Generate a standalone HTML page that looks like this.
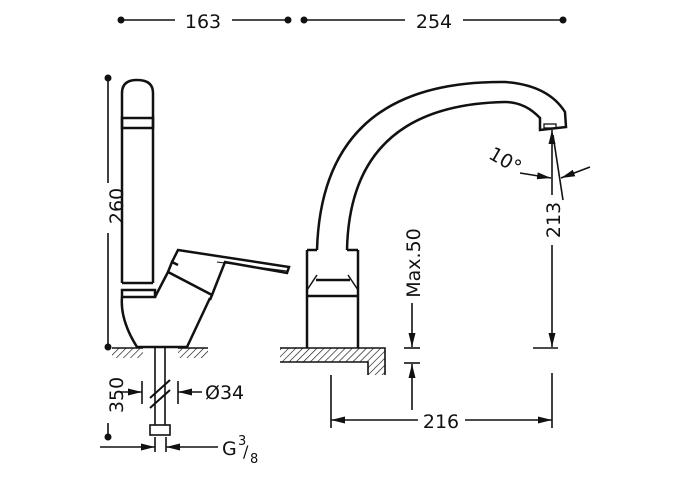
<!DOCTYPE html>
<html><head><style>
html,body{margin:0;padding:0;background:#fff;}
svg{display:block;}
text{font-family:"DejaVu Sans","Liberation Sans",sans-serif;fill:#111;}
</style></head><body>
<svg width="700" height="500" viewBox="0 0 700 500" xmlns="http://www.w3.org/2000/svg">
<defs>
<pattern id="h" width="5" height="5" patternUnits="userSpaceOnUse" patternTransform="rotate(45)">
<line x1="0" y1="0" x2="0" y2="5" stroke="#111" stroke-width="1.3"/>
</pattern>
<marker id="b" markerWidth="14" markerHeight="7" refX="14" refY="3.5" orient="auto" markerUnits="userSpaceOnUse">
<path d="M0,0 L14,3.5 L0,7 z" fill="#111"/>
</marker>
</defs>
<g stroke="#111" stroke-width="1.6" fill="none">
<line x1="121" y1="20" x2="175" y2="20"/><line x1="232" y1="20" x2="288" y2="20"/>
<line x1="304" y1="20" x2="405" y2="20"/><line x1="463" y1="20" x2="563" y2="20"/>
<line x1="108" y1="78" x2="108" y2="183"/><line x1="108" y1="233" x2="108" y2="347"/>
<g stroke-width="2.5">
<path d="M122,283 L122,93 Q122,80 137,80 Q153,80 153,93 L153,283"/>
<rect x="122" y="118" width="31" height="10"/>
<line x1="122" y1="283" x2="153" y2="283"/>
<rect x="122" y="290" width="33" height="7"/>
<path d="M122,297 Q120,320 137,347 L187,347 L210,298"/>
<path d="M155,297 L168,272 L212,295 L210,300"/>
<path d="M168,272 L172,262 L178,265"/>
<path d="M172,262 L178,250 L289,267 L287,273 L225,262 L212,295"/>
</g>
<line x1="217" y1="262" x2="287" y2="271" stroke-width="1"/>
<rect x="112" y="348" width="31" height="10" fill="url(#h)" stroke="none"/>
<rect x="178" y="348" width="30" height="10" fill="url(#h)" stroke="none"/>
<line x1="112" y1="348" x2="143" y2="348"/><line x1="178" y1="348" x2="208" y2="348"/>
<line x1="155" y1="348" x2="155" y2="425"/><line x1="165" y1="348" x2="165" y2="425"/>
<line x1="150" y1="398" x2="170" y2="380" stroke-width="2"/><line x1="150" y1="408" x2="170" y2="390" stroke-width="2"/>
<rect x="150" y="425" width="20" height="10"/>
<line x1="142" y1="381" x2="142" y2="404"/><line x1="178" y1="381" x2="178" y2="404"/>
<line x1="120" y1="392" x2="142" y2="392" marker-end="url(#b)"/>
<line x1="202" y1="392" x2="178" y2="392" marker-end="url(#b)"/>
<line x1="108" y1="423" x2="108" y2="437"/>
<line x1="155" y1="437" x2="155" y2="452"/><line x1="166" y1="437" x2="166" y2="452"/>
<line x1="100" y1="447" x2="155" y2="447" marker-end="url(#b)"/>
<line x1="218" y1="447" x2="166" y2="447" marker-end="url(#b)"/>
<g stroke-width="2.5">
<path d="M317,250 Q322,80 505,82 Q548,85 565,112 L566,127 L540,130 L540,118 Q525,102 505,102 Q350,105 347,250"/>
<path d="M307,250 L307,348 M358,250 L358,348 M307,250 L317,250 M347,250 L358,250"/>
<line x1="307" y1="296" x2="358" y2="296"/>
<line x1="316" y1="280" x2="350" y2="280"/>
</g>
<rect x="544" y="124" width="12" height="4" stroke-width="1.3"/>
<path d="M307,290 L317,275 M358,290 L348,275" stroke-width="1.5"/>
<path d="M280,348 L385,348 L385,375 L368,375 L368,362 L280,362 Z" fill="url(#h)" stroke="none"/>
<path d="M280,348 L385,348 L385,375 M368,375 L368,362 L280,362"/>
<line x1="412" y1="303" x2="412" y2="347" marker-end="url(#b)"/>
<line x1="404" y1="348" x2="420" y2="348"/><line x1="404" y1="363" x2="420" y2="363"/>
<line x1="412" y1="410" x2="412" y2="364" marker-end="url(#b)"/>
<line x1="552" y1="195" x2="552" y2="130" marker-end="url(#b)"/>
<line x1="552" y1="245" x2="552" y2="347" marker-end="url(#b)"/>
<line x1="533" y1="348" x2="558" y2="348"/>
<line x1="553" y1="135" x2="563" y2="200"/>
<line x1="520" y1="173" x2="551" y2="178" marker-end="url(#b)"/>
<line x1="590" y1="167" x2="561" y2="178" marker-end="url(#b)"/>
<line x1="331" y1="375" x2="331" y2="428"/><line x1="552" y1="373" x2="552" y2="428"/>
<line x1="418" y1="420" x2="331" y2="420" marker-end="url(#b)"/>
<line x1="465" y1="420" x2="552" y2="420" marker-end="url(#b)"/>
</g>
<g fill="#111">
<circle cx="121" cy="20" r="3.5"/><circle cx="288" cy="20" r="3.5"/>
<circle cx="304" cy="20" r="3.5"/><circle cx="563" cy="20" r="3.5"/>
<circle cx="108" cy="78" r="3.5"/><circle cx="108" cy="347" r="3.5"/>
<circle cx="108" cy="437" r="3.5"/>
</g>
<g font-size="19">
<text x="203" y="28" text-anchor="middle">163</text>
<text x="434" y="28" text-anchor="middle">254</text>
<text transform="translate(123,206) rotate(-90)" text-anchor="middle">260</text>
<text transform="translate(123,395) rotate(-90)" text-anchor="middle">350</text>
<text x="205" y="399">Ø34</text>
<text x="222" y="455">G</text>
<text x="238" y="445" font-size="13">3</text>
<text x="243" y="457" font-size="16">/</text>
<text x="250" y="463" font-size="13">8</text>
<text transform="translate(420,263) rotate(-90)" text-anchor="middle">Max.50</text>
<text transform="translate(560,220) rotate(-90)" text-anchor="middle">213</text>
<text transform="translate(502,166) rotate(30)" text-anchor="middle">10°</text>
<text x="441" y="428" text-anchor="middle">216</text>
</g>
</svg>
</body></html>
